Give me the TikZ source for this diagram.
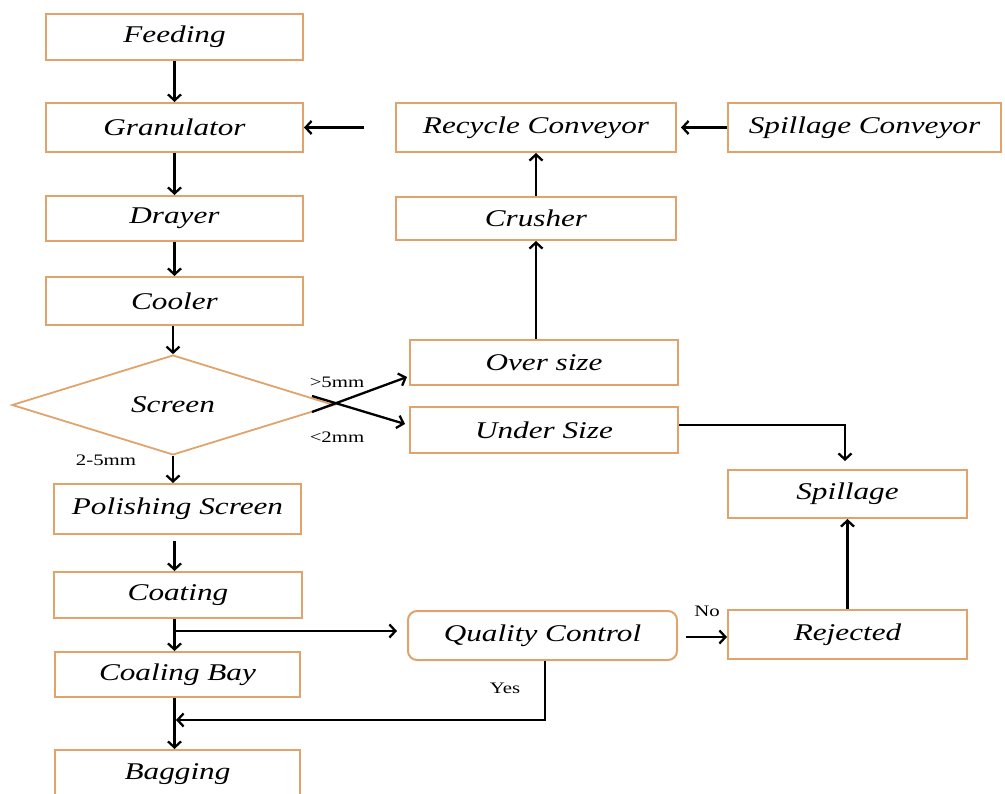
\documentclass[tikz,border=0pt]{standalone}
\usepackage{fontspec}
\setmainfont{Liberation Serif}[FakeStretch=1.3]
\usetikzlibrary{arrows.meta,shapes.geometric,calc}
\definecolor{boxc}{HTML}{E0A36C}
\tikzset{
  box/.style={draw=boxc, line width=2pt, fill=white, inner sep=0pt, align=center,
    font=\fontsize{24}{26}\selectfont\itshape},
  rbox/.style={box, rounded corners=9pt},
  arr/.style={draw=black, line width=2.3pt, -{Straight Barb[length=6pt,width=13pt]}},
  lbl/.style={inner sep=0pt, font=\fontsize{16}{18}\selectfont}
}
\begin{document}
\begin{tikzpicture}[x=1pt,y=-1pt]
\useasboundingbox (0,0) rectangle (1005,794);
% left column
\node[box, minimum width=257pt, minimum height=46pt] (feed) at (174.5,37) {Feeding};
\node[box, minimum width=257pt, minimum height=49pt] (gran) at (174.5,127.5) {Granulator};
\node[box, minimum width=257pt, minimum height=45pt] (dray) at (174.5,218.5) {Drayer};
\node[box, minimum width=257pt, minimum height=48pt] (cool) at (174.5,301) {Cooler};
\node[diamond, draw=boxc, line width=1.8pt, inner sep=0pt, minimum width=322pt, minimum height=95pt,
      font=\fontsize{24}{26}\selectfont\itshape] (screen) at (173,405) {Screen};
\node[box, minimum width=247pt, minimum height=50pt] (pol) at (177.5,509) {Polishing Screen};
\node[box, minimum width=248pt, minimum height=46pt] (coat) at (178,595) {Coating};
\node[box, minimum width=245pt, minimum height=45pt] (coal) at (177.5,674.5) {Coaling Bay};
\node[box, minimum width=245pt, minimum height=48pt] (bag) at (177.5,774) {Bagging};
% right part
\node[box, minimum width=280pt, minimum height=49pt] (recy) at (536,127.5) {Recycle Conveyor};
\node[box, minimum width=273pt, minimum height=49pt] (spc) at (864.5,127.5) {Spillage Conveyor};
\node[box, minimum width=280pt, minimum height=43pt] (crush) at (536,218.5) {Crusher};
\node[box, minimum width=268pt, minimum height=45pt] (over) at (544,362.5) {Over size};
\node[box, minimum width=268pt, minimum height=46pt] (under) at (544,430) {Under Size};
\node[box, minimum width=239pt, minimum height=48pt] (spill) at (847.5,494) {Spillage};
\node[rbox, minimum width=269pt, minimum height=49pt] (qc) at (542.5,635.5) {Quality Control};
\node[box, minimum width=239pt, minimum height=49pt] (rej) at (847.5,634.5) {Rejected};
% labels
\node[lbl] (l5) at (337,382) {>5mm};
\node[lbl] (l2) at (337,437) {<2mm};
\node[lbl] (l25) at (106,460) {2-5mm};
\node[lbl] (lyes) at (505,688) {Yes};
\node[lbl] (lno) at (707,611) {No};
% helper coordinates
\coordinate (sA) at (312,412);
\coordinate (sB) at (312,396);
\coordinate (tA) at (407,377);
\coordinate (tB) at (405,424);
\coordinate (br) at (174.5,631);
\coordinate (qcin) at ([xshift=-10pt]qc.west);
\coordinate (yesend) at (176,720);
\coordinate (spin) at (845,461);
\coordinate (noy) at (0,637);
% left column arrows
\draw[arr] (feed.south) -- (gran.north -| feed.south);
\draw[arr] (gran.south -| feed.south) -- (dray.north -| feed.south);
\draw[arr] (dray.south -| feed.south) -- (cool.north -| feed.south);
\draw[arr] (cool.south -| screen.north) -- (screen.north);
\draw[arr] (screen.south) -- (pol.north -| screen.south);
\draw[arr] ([yshift=-6pt]pol.south -| feed.south) -- (coat.north -| feed.south);
\draw[arr] (coat.south -| feed.south) -- (coal.north -| feed.south);
\draw[arr] (coal.south -| feed.south) -- (bag.north -| feed.south);
% right arrows
\draw[arr] ([xshift=-31pt]recy.west) -- (gran.east);
\draw[arr] (spc.west) -- ([xshift=4pt]recy.east);
\draw[arr] (crush.north) -- (recy.south);
\draw[arr] (over.north -| crush.south) -- (crush.south);
\draw[arr] (sA) -- (tA);
\draw[arr] (sB) -- (tB);
\draw[arr] ([yshift=5pt]under.east) -| (spin);
\draw[arr] (rej.north) -- (spill.south);
\draw[arr] ([xshift=8pt]qc.east |- noy) -- (rej.west |- noy);
\draw[arr] (br) -- (br -| qcin);
\draw[arr] ([xshift=2.5pt]qc.south) |- (yesend);
\end{tikzpicture}
\end{document}
